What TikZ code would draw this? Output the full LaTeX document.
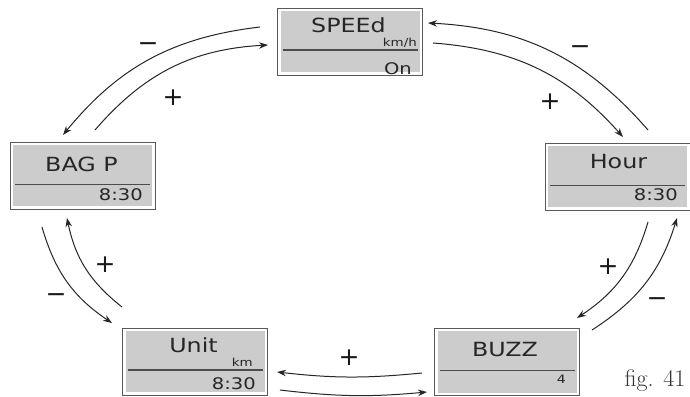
\documentclass[tikz,border=0pt]{standalone}
\usepackage{fontspec}
\newfontfamily\lcdfont[FakeStretch=1.22]{DejaVu Sans}
\newfontfamily\signfont{DejaVu Sans}
\usetikzlibrary{arrows.meta}
\begin{document}
\begin{tikzpicture}[x=1pt,y=1pt,
  panel/.style={draw=black!65,line width=0.8pt,fill=white,minimum width=145pt,minimum height=67pt,inner sep=0pt,
    path picture={
      \fill[black!20] ([shift={(3,-3)}]path picture bounding box.north west) rectangle ([shift={(-3,3)}]path picture bounding box.south east);
      \draw[black!70,line width=1.3pt] ([shift={(5,25)}]path picture bounding box.south west) -- ([shift={(-5,25)}]path picture bounding box.south east);
    }},
  title/.style={font=\lcdfont\fontsize{19.5}{21}\selectfont,text=black!85,inner sep=0pt},
  value/.style={font=\lcdfont\fontsize{16}{17}\selectfont,text=black!85,inner sep=0pt,anchor=east},
  unitlbl/.style={font=\lcdfont\fontsize{11}{12}\selectfont,text=black!85,inner sep=0pt,anchor=base east},
  sign/.style={font=\signfont\fontsize{25}{26}\selectfont,text=black!90,inner sep=0pt},
  flow/.style={-{Stealth[length=9pt,width=6.5pt]},line width=1pt,black!85}]
\useasboundingbox (0,0) rectangle (690,396);
\fill[white] (0,0) rectangle (690,396);
% display panels
\node[panel] (speed) at (350,354.5) {};
\node[panel] (bag) at (82.5,220) {};
\node[panel] (hour) at (617.5,219) {};
\node[panel] (unit) at (195,34.5) {};
\node[panel] (buzz) at (507,34) {};
\node[title] (speedt) at (348.5,370.5) {SPEEd};
\node[title] (bagt) at (81.5,232) {BAG P};
\node[title] (hourt) at (618.5,234) {Hour};
\node[title] (unitt) at (193.5,51) {Unit};
\node[title] (buzzt) at (505,46.5) {BUZZ};
\node[unitlbl] (speedu) at (417,349) {km/h};
\node[unitlbl] (unitu) at (253,30) {km};
\node[value] (speedv) at (412,327.5) {On};
\node[value] (bagv) at (143,201) {8:30};
\node[value] (hourv) at (678,201) {8:30};
\node[value] (unitv) at (256,12.5) {8:30};
\node[value,font=\lcdfont\fontsize{11.5}{12}\selectfont] (buzzv) at (566,16.5) {4};
% arrow ends
\coordinate (a1) at (260,369); \coordinate (a2) at (63,261);
\coordinate (b1) at (95,266);  \coordinate (b2) at (268,351);
\coordinate (c1) at (648,266); \coordinate (c2) at (428,373);
\coordinate (d1) at (433,353); \coordinate (d2) at (623,259);
\coordinate (e1) at (42,169);  \coordinate (e2) at (112,73);
\coordinate (f1) at (122,89);  \coordinate (f2) at (67,178);
\coordinate (g1) at (648,174); \coordinate (g2) at (577,78);
\coordinate (h1) at (592,66);  \coordinate (h2) at (677,178);
\coordinate (i1) at (422,23);  \coordinate (i2) at (277,24);
\coordinate (j1) at (280,6);   \coordinate (j2) at (427,4);
\draw[flow] (a1) to[bend right=22] (a2);
\draw[flow] (b1) to[bend left=23] (b2);
\draw[flow] (c1) to[bend right=23] (c2);
\draw[flow] (d1) to[bend left=22] (d2);
\draw[flow] (e1) to[bend right=20] (e2);
\draw[flow] (f1) to[bend left=20] (f2);
\draw[flow] (g1) to[bend left=20] (g2);
\draw[flow] (h1) to[bend right=20] (h2);
\draw[flow] (i1) to[bend left=6] (i2);
\draw[flow] (j1) to[bend right=6] (j2);
% signs
\node[sign] (tlm) at (148,349) {−};
\node[sign] (tlp) at (173,298) {+};
\node[sign] (trm) at (580,346) {−};
\node[sign] (trp) at (550,294) {+};
\node[sign] (lp) at (105,131) {+};
\node[sign] (lm) at (56,98) {−};
\node[sign] (rp) at (608,129) {+};
\node[sign] (rm) at (657,94) {−};
\node[sign] (bp) at (349,38) {+};
\node[anchor=base,text=black!80,font=\fontsize{24}{26}\selectfont] (fig) at (655,10) {fig. 41};
\end{tikzpicture}
\end{document}
